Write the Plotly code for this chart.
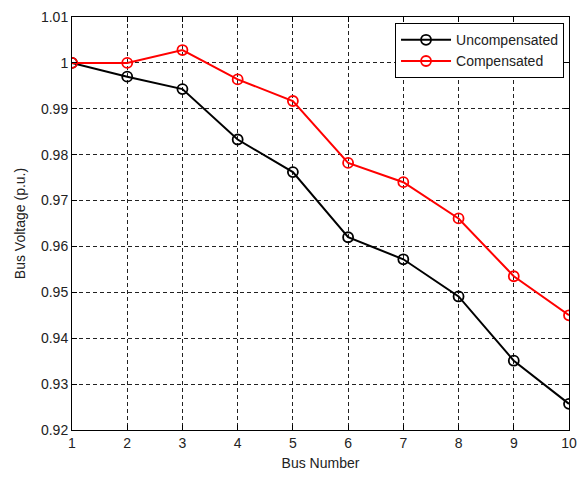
import plotly.graph_objects as go

bus = [1, 2, 3, 4, 5, 6, 7, 8, 9, 10]
uncompensated = [1.0, 0.997, 0.9943, 0.9833, 0.9762, 0.962, 0.9572, 0.9491, 0.9351, 0.9257]
compensated = [1.0, 1.0, 1.0028, 0.9964, 0.9917, 0.9782, 0.974, 0.9661, 0.9535, 0.945]

y_ticks = [0.92, 0.93, 0.94, 0.95, 0.96, 0.97, 0.98, 0.99, 1.0, 1.01]
y_labels = ["0.92", "0.93", "0.94", "0.95", "0.96", "0.97", "0.98", "0.99", "1", "1.01"]
x_ticks = bus
x_labels = [str(b) for b in bus]

font = dict(family="Liberation Sans, Arial, sans-serif", size=14, color="#222222")

fig = go.Figure()
fig.add_trace(go.Scatter(
    x=bus, y=uncompensated, name="Uncompensated", mode="lines+markers",
    line=dict(color="black", width=2),
    marker=dict(symbol="circle-open", size=10, color="black", line=dict(width=1.8)),
))
fig.add_trace(go.Scatter(
    x=bus, y=compensated, name="Compensated", mode="lines+markers",
    line=dict(color="#ff0000", width=2),
    marker=dict(symbol="circle-open", size=10, color="#ff0000", line=dict(width=1.8)),
))

axis_common = dict(
    showline=True, linecolor="black", linewidth=1, mirror="allticks",
    ticks="inside", ticklen=5, tickcolor="black",
    showgrid=True, gridcolor="#222222", gridwidth=1, griddash="4px,3px",
    zeroline=False, tickfont=font,
)

fig.update_xaxes(
    range=[1, 10], tickvals=x_ticks, ticktext=x_labels,
    title=dict(text="Bus Number", font=font, standoff=8), **axis_common,
)
fig.update_yaxes(
    range=[0.92, 1.01], tickvals=y_ticks, ticktext=y_labels,
    title=dict(text="Bus Voltage (p.u.)", font=font, standoff=12), **axis_common,
)

fig.update_layout(
    width=586, height=478,
    margin=dict(l=72, r=9, t=14, b=47),
    paper_bgcolor="white", plot_bgcolor="white",
    font=font,
    showlegend=True,
    legend=dict(
        x=0.99, y=0.985, xanchor="right", yanchor="top",
        bgcolor="white", bordercolor="black", borderwidth=1,
        font=dict(family="Liberation Sans, Arial, sans-serif", size=14, color="#222222"),
        itemwidth=50, tracegroupgap=0,
    ),
)

fig.write_html("out.html")
